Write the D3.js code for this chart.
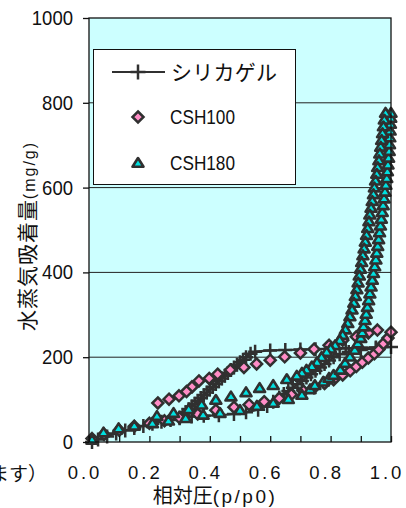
<!DOCTYPE html>
<html>
<head>
<meta charset="utf-8">
<script src="https://cdn.jsdelivr.net/npm/d3@7/dist/d3.min.js"></script>
<style>
  body { margin: 0; background: #fff; }
  svg { display: block; }
  text { font-family: "Liberation Sans", Arial, "Noto Sans CJK JP", sans-serif; fill: #111; }
  .jp { font-family: "Noto Sans CJK JP", sans-serif; }
</style>
</head>
<body>
<svg></svg>
<script>
// axis ticks
var xTicks = [0, 0.1, 0.2, 0.3, 0.4, 0.5, 0.6, 0.7, 0.8, 0.9, 1.0];
var xTickLabels = ["0.0", "0.2", "0.4", "0.6", "0.8", "1.0"];
var yTicks = [0, 200, 400, 600, 800, 1000];

// シリカゲル (adsorption then desorption, one polyline)
var silicaP = [0.01, 0.03, 0.06, 0.09, 0.12, 0.15, 0.18, 0.21, 0.24, 0.27, 0.30, 0.34, 0.38, 0.43, 0.48, 0.52,
  0.56, 0.59, 0.61, 0.63, 0.645, 0.66, 0.675, 0.69, 0.705, 0.72, 0.735, 0.75, 0.765, 0.78, 0.795, 0.81, 0.83,
  0.86, 0.90, 0.95, 1.0,
  0.95, 0.90, 0.85, 0.80, 0.75, 0.70, 0.65, 0.60, 0.55, 0.535, 0.52, 0.51, 0.50, 0.49, 0.48, 0.47, 0.46, 0.45,
  0.44, 0.43, 0.42, 0.41, 0.40, 0.39, 0.38, 0.37, 0.36, 0.35, 0.34, 0.33, 0.32, 0.31, 0.30];
var silicaV = [0, 6, 13, 20, 27, 33, 38, 43, 48, 52, 56, 60, 62, 63, 66, 70,
  76, 85, 95, 105, 113, 120, 128, 136, 144, 152, 160, 168, 176, 184, 192, 200, 207,
  212, 217, 221, 224,
  223, 222, 221, 220, 219, 218, 217, 216, 213, 208, 200, 194, 188, 182, 176, 170, 163, 156,
  150, 143, 137, 130, 124, 117, 110, 104, 97, 90, 84, 77, 70, 64, 58];

// CSH100
var csh100P = [0.01, 0.05, 0.10, 0.15, 0.20, 0.25, 0.30, 0.36, 0.42, 0.48, 0.53, 0.58, 0.63, 0.67, 0.71, 0.745,
  0.78, 0.81, 0.84, 0.865, 0.885, 0.905, 0.925, 0.945, 0.96, 0.975, 0.99, 1.0,
  0.955, 0.925, 0.885, 0.84, 0.795, 0.745, 0.70, 0.648, 0.60, 0.555, 0.513, 0.468, 0.426, 0.398, 0.364,
  0.341, 0.323, 0.298, 0.265, 0.228];
var csh100V = [8, 18, 28, 37, 44, 50, 57, 66, 75, 82, 88, 95, 103, 112, 120, 128,
  138, 147, 158, 168, 178, 188, 198, 208, 218, 232, 245, 259,
  264, 257, 248, 240, 228, 219, 210, 201, 193, 184, 176, 170, 160, 150, 144,
  130, 119, 109, 101, 92];

// CSH180
var csh180P = [0.01, 0.048, 0.098, 0.15, 0.21, 0.263, 0.32, 0.378, 0.434, 0.50, 0.556, 0.61, 0.66, 0.705,
  0.732, 0.748, 0.776, 0.795, 0.81, 0.832, 0.848, 0.864, 0.88, 0.89,
  0.900, 0.905, 0.909, 0.914, 0.918, 0.922, 0.926, 0.930, 0.934, 0.938, 0.942, 0.946, 0.950, 0.953, 0.956,
  0.959, 0.962, 0.965, 0.968, 0.971, 0.974, 0.977, 0.980, 0.983, 0.986, 0.988, 0.990, 0.992, 0.994, 0.995,
  0.996, 0.997, 0.998, 0.999, 1.0,
  0.982, 0.978, 0.975, 0.972, 0.969, 0.966, 0.963, 0.960, 0.956, 0.953, 0.949, 0.945, 0.942, 0.938, 0.934,
  0.930, 0.927, 0.923, 0.919, 0.915, 0.911, 0.907, 0.903, 0.899, 0.895, 0.891, 0.887, 0.882, 0.877, 0.871,
  0.864, 0.857, 0.849, 0.84, 0.83, 0.815, 0.80, 0.787, 0.77, 0.755, 0.738, 0.72, 0.705, 0.688, 0.655, 0.61,
  0.565, 0.52, 0.47, 0.42, 0.373, 0.33, 0.28, 0.225];
var csh180V = [5, 22, 32, 38, 44, 50, 56, 64, 68, 75, 85, 92, 101, 111,
  124, 134, 142, 151, 158, 170, 186, 201, 217, 232,
  245, 258, 272, 287, 302, 318, 334, 350, 366, 382, 398, 414, 430, 446, 462,
  478, 494, 510, 526, 542, 558, 574, 590, 606, 622, 638, 654, 670, 686, 702,
  718, 734, 750, 764, 776,
  776, 760, 744, 728, 712, 696, 680, 664, 648, 632, 616, 600, 584, 568, 552,
  536, 520, 504, 488, 472, 456, 440, 424, 408, 392, 376, 360, 344, 328, 312,
  296, 280, 265, 252, 240, 228, 220, 212, 200, 188, 178, 170, 163, 156, 148, 134,
  127, 117, 107, 99, 88, 77, 68, 61];

var legendNames = ["シリカゲル", "CSH100", "CSH180"];

var W = 406, H = 508;
var svg = d3.select("svg").attr("width", W).attr("height", H);

var x = d3.scaleLinear().domain([0, 1]).range([89, 391]);
var y = d3.scaleLinear().domain([0, 1000]).range([442, 18]);

var dark = "#303030";
var pink = "#ff8cc6";
var cyan = "#00e0e0";

function zip(ps, vs) {
  return ps.map(function(p, i) { return { p: p, v: vs[i] }; });
}

// plot background
svg.append("rect")
  .attr("x", x(0)).attr("y", y(1000))
  .attr("width", x(1) - x(0)).attr("height", y(0) - y(1000))
  .attr("fill", "#ccffff");

// gridlines
svg.append("g").selectAll("line")
  .data(yTicks.filter(function(d) { return d > 0 && d < 1000; }))
  .enter().append("line")
  .attr("x1", x(0)).attr("x2", x(1))
  .attr("y1", function(d) { return y(d); })
  .attr("y2", function(d) { return y(d); })
  .attr("stroke", "#222").attr("stroke-width", 1);

// marker shapes
function plusPath(s) {
  return "M" + (-s) + ",0H" + s + "M0," + (-s) + "V" + s;
}
function diamondPath(s) {
  return "M0," + (-s) + "L" + s + ",0L0," + s + "L" + (-s) + ",0Z";
}
function trianglePath(s) {
  return "M0," + (-s) + "L" + (s * 1.1) + "," + (s * 0.75) + "L" + (-s * 1.1) + "," + (s * 0.75) + "Z";
}

var silica = zip(silicaP, silicaV);
var csh100 = zip(csh100P, csh100V);
var csh180 = zip(csh180P, csh180V);

var line = d3.line()
  .x(function(d) { return x(d.p); })
  .y(function(d) { return y(d.v); });

var plotG = svg.append("g");

plotG.append("path")
  .datum(silica)
  .attr("d", line)
  .attr("fill", "none")
  .attr("stroke", dark)
  .attr("stroke-width", 2.2);

plotG.append("g").selectAll("path")
  .data(silica).enter().append("path")
  .attr("transform", function(d) { return "translate(" + x(d.p) + "," + y(d.v) + ")"; })
  .attr("d", plusPath(7))
  .attr("stroke", dark).attr("stroke-width", 2.5).attr("fill", "none");

plotG.append("g").selectAll("path")
  .data(csh100).enter().append("path")
  .attr("transform", function(d) { return "translate(" + x(d.p) + "," + y(d.v) + ")"; })
  .attr("d", diamondPath(5.5))
  .attr("fill", pink).attr("stroke", dark).attr("stroke-width", 2.5);

plotG.append("g").selectAll("path")
  .data(csh180).enter().append("path")
  .attr("transform", function(d) { return "translate(" + x(d.p) + "," + y(d.v) + ")"; })
  .attr("d", trianglePath(5))
  .attr("fill", cyan).attr("stroke", dark).attr("stroke-width", 2.6)
  .attr("stroke-linejoin", "round");

// legend
var leg = svg.append("g");
leg.append("rect")
  .attr("x", 93.5).attr("y", 49.5).attr("width", 202).attr("height", 135)
  .attr("fill", "#fff").attr("stroke", "#111").attr("stroke-width", 1);
leg.append("line")
  .attr("x1", 112).attr("x2", 165).attr("y1", 72).attr("y2", 72)
  .attr("stroke", dark).attr("stroke-width", 2.2);
leg.append("path")
  .attr("transform", "translate(138,72)")
  .attr("d", plusPath(7.5)).attr("stroke", dark).attr("stroke-width", 2.5);
leg.append("path")
  .attr("transform", "translate(138,117)")
  .attr("d", diamondPath(5.5)).attr("fill", pink).attr("stroke", dark).attr("stroke-width", 2.5);
leg.append("path")
  .attr("transform", "translate(138,163)")
  .attr("d", trianglePath(5)).attr("fill", cyan).attr("stroke", dark).attr("stroke-width", 2.6)
  .attr("stroke-linejoin", "round");
leg.append("text").attr("class", "jp")
  .attr("x", 171).attr("y", 80)
  .attr("font-size", 21)
  .attr("textLength", 106).attr("lengthAdjust", "spacing")
  .text(legendNames[0]);
leg.append("text")
  .attr("x", 170).attr("y", 124)
  .attr("font-size", 19.5)
  .attr("textLength", 65).attr("lengthAdjust", "spacingAndGlyphs")
  .text(legendNames[1]);
leg.append("text")
  .attr("x", 170).attr("y", 170)
  .attr("font-size", 19.5)
  .attr("textLength", 65).attr("lengthAdjust", "spacingAndGlyphs")
  .text(legendNames[2]);

// plot frame
svg.append("rect")
  .attr("x", x(0)).attr("y", y(1000))
  .attr("width", x(1) - x(0)).attr("height", y(0) - y(1000))
  .attr("fill", "none").attr("stroke", "#111").attr("stroke-width", 1.3);

// y axis
var yAxis = svg.append("g")
  .attr("transform", "translate(" + x(0) + ",0)")
  .call(d3.axisLeft(y).tickValues(yTicks).tickSize(6).tickPadding(10).tickFormat(d3.format("d")));
yAxis.select(".domain").remove();
yAxis.selectAll("line").attr("stroke", "#111").attr("stroke-width", 1.3);
yAxis.selectAll("text")
  .attr("font-size", 20.5)
  .attr("font-family", "'Liberation Sans', Arial, sans-serif")
  .attr("fill", "#111")
  .attr("textLength", function(d) { return String(d).length * 10.3; })
  .attr("lengthAdjust", "spacingAndGlyphs");

// x axis (ticks inside)
var xAxis = svg.append("g")
  .attr("transform", "translate(0," + y(0) + ")")
  .call(d3.axisBottom(x).tickValues(xTicks).tickSize(-6).tickFormat(""));
xAxis.select(".domain").remove();
xAxis.selectAll("line").attr("stroke", "#111").attr("stroke-width", 1.3);

svg.append("g").selectAll("text")
  .data(xTickLabels).enter().append("text")
  .attr("x", function(d) { return x(+d) - 4; })
  .attr("y", 479)
  .attr("text-anchor", "middle")
  .attr("font-size", 18.5)
  .attr("letter-spacing", 3)
  .text(function(d) { return d; });

// axis titles
svg.append("text")
  .attr("x", 215).attr("y", 503)
  .attr("text-anchor", "middle")
  .html('<tspan class="jp" font-size="20">相対圧</tspan><tspan font-size="19" letter-spacing="2.5">(p/p0)</tspan>');

svg.append("text")
  .attr("transform", "translate(35,236) rotate(-90)")
  .attr("text-anchor", "middle")
  .html('<tspan class="jp" font-size="21" letter-spacing="1">水蒸気吸着量</tspan><tspan font-size="16" letter-spacing="2">(mg/g)</tspan>');

// caption fragment cut by the left edge (as in the source image)
svg.append("text").attr("class", "jp")
  .attr("x", 47).attr("y", 481)
  .attr("text-anchor", "end")
  .attr("font-size", 19)
  .text("ます）");
</script>
</body>
</html>
